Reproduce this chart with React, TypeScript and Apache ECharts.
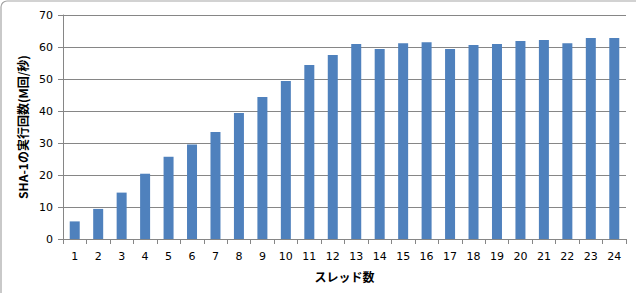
import React, { useEffect, useRef } from "react";
import * as echarts from "echarts";

const categories = ["1","2","3","4","5","6","7","8","9","10","11","12","13","14","15","16","17","18","19","20","21","22","23","24"];
const values = [5.5, 9.4, 14.5, 20.4, 25.7, 29.5, 33.4, 39.4, 44.4, 49.4, 54.4, 57.5, 60.9, 59.4, 61.2, 61.5, 59.4, 60.6, 60.9, 61.9, 62.2, 61.2, 62.8, 62.8];
const yTicks = { min: 0, max: 70, interval: 10 };
const xName = "スレッド数";
const yName = "SHA-1の実行回数(M回/秒)";

export default function App() {
  const ref = useRef<HTMLDivElement>(null);
  useEffect(() => {
    document.body.style.margin = "0";
    const chart = echarts.init(ref.current!, null, { renderer: "svg" });
    const axisColor = "#868686";
    chart.setOption({
      animation: false,
      backgroundColor: "#ffffff",
      graphic: [
        {
          type: "rect",
          shape: { x: 1, y: 1, width: 700, height: 400, r: 6 },
          style: { fill: "none", stroke: "#a6a6a6", lineWidth: 1.2 },
          silent: true,
          z: 100,
        },
      ],
      grid: { left: 63, top: 15, right: 10, bottom: 54, containLabel: false },
      xAxis: {
        type: "category",
        data: categories,
        name: xName,
        nameLocation: "middle",
        nameGap: 31,
        nameTextStyle: { fontFamily: "Noto Sans CJK JP", fontWeight: "bold", fontSize: 12, color: "#000" },
        axisLine: { lineStyle: { color: axisColor, width: 1 } },
        axisTick: { show: true, length: 5, alignWithLabel: false, lineStyle: { color: axisColor } },
        axisLabel: { margin: 12, fontFamily: "DejaVu Sans", fontSize: 11, color: "#000", interval: 0 },
        splitLine: { show: false },
      },
      yAxis: {
        type: "value",
        min: yTicks.min,
        max: yTicks.max,
        interval: yTicks.interval,
        name: yName,
        nameLocation: "middle",
        nameGap: 31,
        nameRotate: 90,
        nameTextStyle: { fontFamily: "Noto Sans CJK JP", fontWeight: "bold", fontSize: 12, color: "#000" },
        axisLine: { show: true, lineStyle: { color: axisColor, width: 1 } },
        axisTick: { show: true, length: 5, inside: false, lineStyle: { color: axisColor } },
        axisLabel: { margin: 10, fontFamily: "DejaVu Sans", fontSize: 11, color: "#000" },
        splitLine: { show: true, lineStyle: { color: axisColor, width: 1 } },
      },
      series: [
        {
          type: "bar",
          data: values,
          barWidth: 10,
          itemStyle: { color: "#4F81BD" },
          silent: true,
        },
      ],
    });
    return () => chart.dispose();
  }, []);
  return <div ref={ref} style={{ position: "fixed", left: 0, top: 0, width: 636, height: 293 }} />;
}
